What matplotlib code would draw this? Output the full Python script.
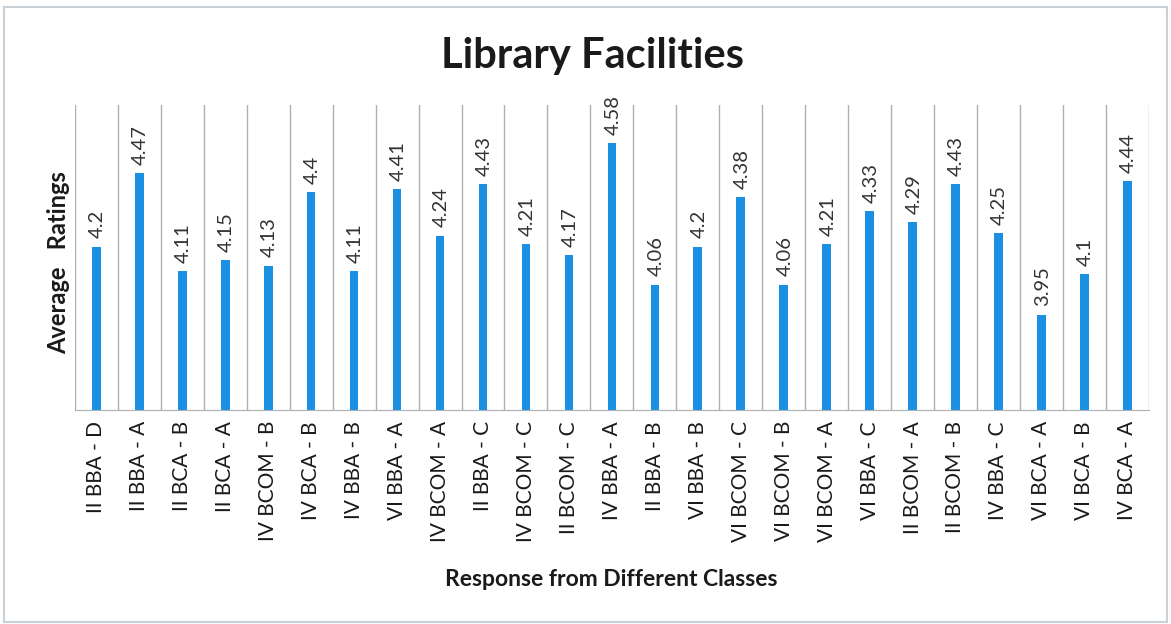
import matplotlib.pyplot as plt
import numpy as np

plt.rcParams['font.family'] = ['Lato', 'DejaVu Sans']

# classes and average ratings
classes = ["II BBA - D", "II BBA - A", "II BCA - B", "II BCA - A", "IV BCOM - B",
           "IV BCA - B", "IV BBA - B", "VI BBA - A", "IV BCOM - A", "II BBA - C",
           "IV BCOM - C", "II BCOM - C", "IV BBA - A", "II BBA - B", "VI BBA - B",
           "VI BCOM - C", "VI BCOM - B", "VI BCOM - A", "VI BBA - C", "II BCOM - A",
           "II BCOM - B", "IV BBA - C", "VI BCA - A", "VI BCA - B", "IV BCA - A"]
ratings = [4.2, 4.47, 4.11, 4.15, 4.13, 4.4, 4.11, 4.41, 4.24, 4.43,
           4.21, 4.17, 4.58, 4.06, 4.2, 4.38, 4.06, 4.21, 4.33, 4.29,
           4.43, 4.25, 3.95, 4.1, 4.44]

fig = plt.figure(figsize=(11.71, 6.24), dpi=100)
ax = fig.add_axes([0.064, 0.343, 0.917, 0.489])

x = np.arange(len(classes))
bars = ax.bar(x, ratings, width=0.2, color='#1b8fe2')

ax.set_xlim(-0.5, len(classes) - 0.5)
ax.set_ylim(3.6, 4.72)

# category separators
for b in np.arange(-0.5, len(classes) + 0.5, 1):
    ax.axvline(b, color='#a9b0b8', lw=1.0, zorder=0)

for xi, v in zip(x, ratings):
    ax.text(xi + 0.03, v + 0.03, f"{v:g}", rotation=90, ha='center', va='bottom',
            fontsize=14.5, color='#333333')

ax.set_xticks(x)
ax.set_xticklabels(classes, rotation=90, fontsize=15, color='#1a1a1a')
ax.tick_params(axis='x', length=0, pad=8)
ax.set_yticks([])
for s in ['top', 'right', 'left']:
    ax.spines[s].set_visible(False)
ax.spines['bottom'].set_color('#a9b0b8')

fig.text(0.506, 0.91, "Library Facilities", ha='center', va='center',
         fontsize=30, fontweight='bold', color='#1a1a1a')
fig.text(0.05, 0.58, "Average   Ratings", rotation=90, ha='center', va='center',
         fontsize=17, fontweight='bold', color='#1a1a1a')
fig.text(0.522, 0.072, "Response from Different Classes", ha='center', va='center',
         fontsize=16.5, fontweight='bold', color='#1a1a1a')

# chart border
fig.patches.append(plt.Rectangle((0.003, 0.003), 0.994, 0.985, transform=fig.transFigure,
                                 fill=False, edgecolor='#c9d0d6', lw=1.5))

fig.savefig("out.png", dpi=100)
